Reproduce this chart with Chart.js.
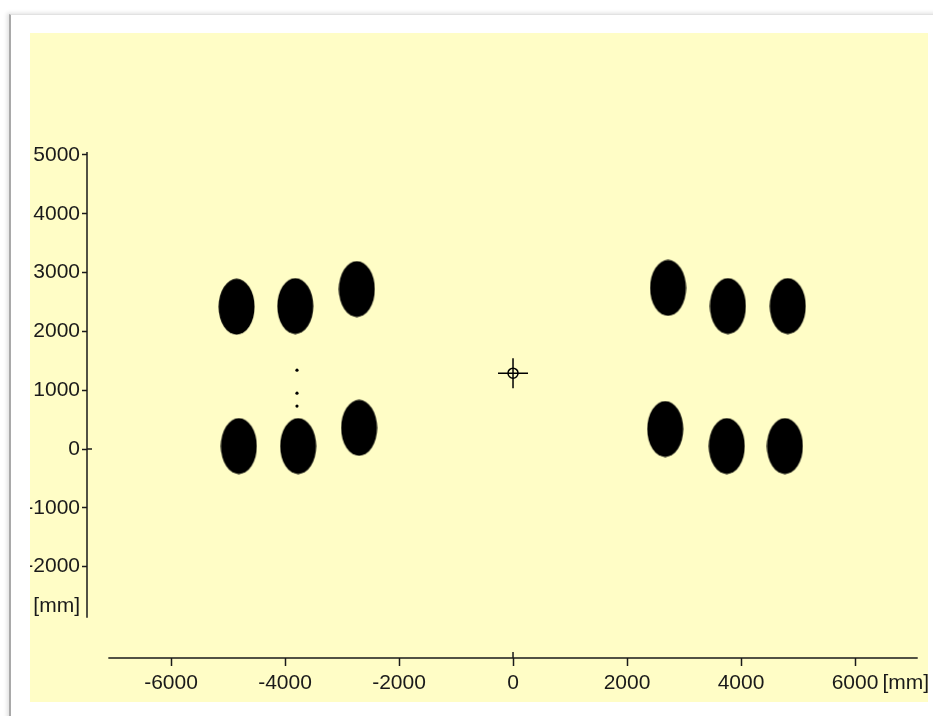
<!DOCTYPE html>
<html>
<head>
<meta charset="utf-8">
<script src="https://cdn.jsdelivr.net/npm/chart.js@4"></script>
<style>
  html, body { margin: 0; padding: 0; background: #fff; width: 933px; height: 716px; overflow: hidden; }
  .frame { position: absolute; left: 9px; top: 14px; width: 940px; height: 720px;
           border-left: 2px solid #a9a9a9; border-top: 1px solid #e2e2e2;
           box-shadow: -2px -1px 4px rgba(0,0,0,0.12); background: #fff; }
  #plot { position: absolute; left: 30px; top: 33px; background: #fffdc6; }
</style>
</head>
<body>
<div class="frame"></div>
<canvas id="plot" width="898" height="669"></canvas>
<script>
// pads (large ellipses), x/y in mm
const padX = [-4850, -3820, -2740, -4810, -3770, -2700, 2720, 3770, 4820, 2670, 3750, 4770];
const padY = [2420, 2430, 2720, 50, 50, 360, 2740, 2430, 2430, 340, 50, 50];
// small dots between the left pads
const dotX = [-3790, -3790, -3790];
const dotY = [1340, 950, 730];
// centre marker
const centreX = [0];
const centreY = [1290];
// axis ticks
const xTickValues = [-6000, -4000, -2000, 0, 2000, 4000, 6000];
const yTickValues = [5000, 4000, 3000, 2000, 1000, 0, -1000, -2000];
const unitLabel = '[mm]';

// where the unit labels sit and how far the axis lines run
const xUnitAt = 6890;
const yUnitAt = -2680;
const xLineFrom = -7100, xLineTo = 7100;
const yLineFrom = 5050, yLineTo = -2870;

const ink = '#1a1a1a';
const font = { family: "'Liberation Sans', Arial, sans-serif", size: 21 };

function toPoints(xs, ys) {
    return xs.map((x, i) => ({ x: x, y: ys[i] }));
}

function ellipseImage(w, h) {
    const c = document.createElement('canvas');
    c.width = w;
    c.height = h;
    const g = c.getContext('2d');
    g.fillStyle = '#000';
    g.beginPath();
    g.ellipse(w / 2, h / 2, w / 2 - 0.5, h / 2 - 0.5, 0, 0, Math.PI * 2);
    g.fill();
    return c;
}

// axis lines only cover part of the plot, so draw them from the scales
const axisLines = {
    id: 'axisLines',
    afterDraw(chart) {
        const { ctx, chartArea, scales } = chart;
        ctx.save();
        ctx.strokeStyle = ink;
        ctx.lineWidth = 1.5;
        ctx.beginPath();
        ctx.moveTo(chartArea.left, scales.y.getPixelForValue(yLineFrom));
        ctx.lineTo(chartArea.left, scales.y.getPixelForValue(yLineTo));
        ctx.moveTo(scales.x.getPixelForValue(xLineFrom), chartArea.bottom);
        ctx.lineTo(scales.x.getPixelForValue(xLineTo), chartArea.bottom);
        // zero ticks cross their axis
        const y0 = scales.y.getPixelForValue(0);
        ctx.moveTo(chartArea.left, y0);
        ctx.lineTo(chartArea.left + 5, y0);
        const x0 = scales.x.getPixelForValue(0);
        ctx.moveTo(x0, chartArea.bottom);
        ctx.lineTo(x0, chartArea.bottom - 6);
        ctx.stroke();
        ctx.restore();
    }
};

function tickColour(unitAt) {
    return (c) => (c.tick && c.tick.value === unitAt) ? 'rgba(0,0,0,0)' : ink;
}

const chart = new Chart(document.getElementById('plot'), {
    type: 'scatter',
    data: {
        datasets: [
            {
                data: toPoints(padX, padY),
                pointStyle: ellipseImage(37, 57),
                pointRadius: 20
            },
            {
                data: toPoints(dotX, dotY),
                pointStyle: 'circle',
                pointRadius: 1.6,
                backgroundColor: '#000',
                borderWidth: 0
            },
            {
                data: toPoints(centreX, centreY),
                pointStyle: 'cross',
                pointRadius: 15,
                borderColor: '#000',
                borderWidth: 1.5
            },
            {
                data: toPoints(centreX, centreY),
                pointStyle: 'circle',
                pointRadius: 5,
                borderColor: '#000',
                backgroundColor: 'rgba(0,0,0,0)',
                borderWidth: 1.5
            }
        ]
    },
    options: {
        responsive: false,
        animation: false,
        layout: {
            autoPadding: false,
            padding: { top: 119, right: 10, left: 0, bottom: 0 }
        },
        plugins: {
            legend: { display: false },
            tooltip: { enabled: false }
        },
        scales: {
            x: {
                type: 'linear',
                min: -7474,
                max: 7105,
                afterBuildTicks: (s) => {
                    s.ticks = xTickValues.concat([xUnitAt]).map(v => ({ value: v }));
                },
                afterFit: (s) => {
                    s.height = 44;
                    s.paddingLeft = 0;
                    s.paddingRight = 0;
                },
                border: { display: false },
                grid: {
                    drawOnChartArea: false,
                    drawTicks: true,
                    tickLength: 8,
                    tickWidth: 1.5,
                    tickColor: tickColour(xUnitAt)
                },
                ticks: {
                    autoSkip: false,
                    maxRotation: 0,
                    padding: 5,
                    color: ink,
                    font: font,
                    callback: (v) => v === xUnitAt ? unitLabel : String(v)
                }
            },
            y: {
                type: 'linear',
                min: -3554,
                max: 5051,
                afterBuildTicks: (s) => {
                    s.ticks = yTickValues.concat([yUnitAt]).map(v => ({ value: v }));
                },
                afterFit: (s) => {
                    s.width = 57;
                    s.paddingTop = 0;
                    s.paddingBottom = 0;
                },
                border: { display: false },
                grid: {
                    drawOnChartArea: false,
                    drawTicks: true,
                    tickLength: 5,
                    tickWidth: 1.5,
                    tickColor: tickColour(yUnitAt)
                },
                ticks: {
                    autoSkip: false,
                    padding: 2,
                    color: ink,
                    font: font,
                    callback: (v) => v === yUnitAt ? unitLabel : String(v)
                }
            }
        }
    },
    plugins: [axisLines]
});
</script>
</body>
</html>
